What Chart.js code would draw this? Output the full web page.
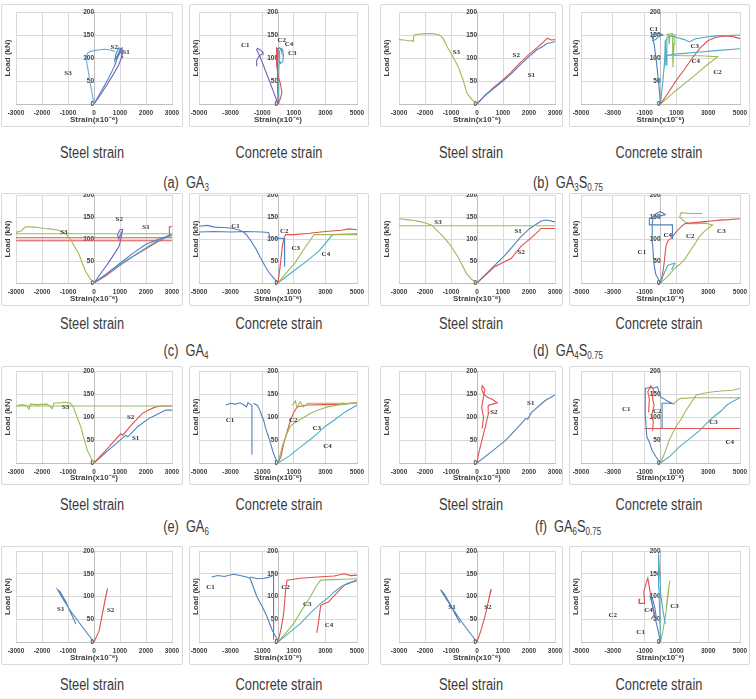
<!DOCTYPE html>
<html><head><meta charset="utf-8">
<script src="https://cdn.jsdelivr.net/npm/chart.js@4"></script>
<style>
body{margin:0;background:#fff;width:756px;height:699px;position:relative;overflow:hidden;font-family:"Liberation Sans","Arial",sans-serif;}
.box{position:absolute;border:1px solid #d9d9d9;border-radius:2px;box-sizing:border-box;background:#fff;}
.box canvas{display:block}
.lab{position:absolute;transform:translate(-50%,-50%) scaleX(0.8);white-space:nowrap;font-size:16px;color:#3a3a3a;}
.lab sub{font-size:10px;vertical-align:-3px;line-height:0;}
</style></head><body>
<script>
// ---------- tick labels ----------
const steelTicks = [-3000,-2000,-1000,0,1000,2000,3000];
const concreteTicks = [-5000,-3000,-1000,1000,3000,5000];
const loadTicks = [0,50,100,150,200];

// ---------- (a) GA3 ----------
const aSteelS3 = [[0,0],[-80,25],[-160,50],[-240,78],[-300,98],[-290,105],[-250,110],[-150,114],[0,116],[200,118],[400,119],[600,118],[700,116],[800,115]];
const aSteelS2 = [[0,0],[150,15],[350,35],[550,55],[750,78],[850,90],[800,85],[900,100],[1000,112],[1050,120],[950,122],[850,110],[800,95],[900,105],[1000,118],[1100,115]];
const aSteelS1 = [[0,0],[250,20],[500,42],[750,65],[950,85],[1050,100],[1100,112],[1080,122],[1000,118],[1050,110],[1120,100]];
const aSteelLabels = [['S2',780,124],['S1',1230,112],['S3',-1000,66]];
const aConcC1 = [[0,0],[-300,28],[-600,55],[-900,82],[-1150,104],[-1350,118],[-1300,121],[-1150,118],[-1000,114],[-950,110],[-1200,104],[-1350,95],[-1350,82]];
const aConcC2 = [[0,0],[150,12],[250,25],[150,45],[0,60],[-80,85],[-100,110],[-80,122],[-20,120],[0,100]];
const aConcC3 = [[0,0],[40,30],[60,70],[80,100],[100,115],[200,121],[300,118],[350,105],[300,92],[150,88],[100,95]];
const aConcC4 = [[0,0],[-30,40],[-40,80],[-20,110],[0,121],[100,122],[200,120],[250,112]];
const aConcLabels = [['C1',-2070,128],['C2',235,139],['C4',700,129],['C3',900,111]];

// ---------- (b) GA3S0.75 ----------
const bSteelS3 = [[-3000,140],[-2800,139],[-2600,137],[-2500,138],[-2450,136],[-2420,150],[-2200,152],[-2000,153],[-1700,153],[-1500,151],[-1400,148],[-1300,142],[-1150,125],[-1000,110],[-850,95],[-700,78],[-550,55],[-400,25],[-200,10],[0,0]];
const bSteelS1 = [[0,0],[300,18],[600,32],[1000,50],[1300,65],[1600,82],[2000,103],[2300,118],[2500,124],[2700,132],[2850,133],[3000,136]];
const bSteelS2 = [[0,0],[300,18],[600,34],[1000,53],[1300,68],[1600,86],[2000,108],[2300,122],[2500,132],[2700,143],[2850,139],[3000,140]];
const bSteelLabels = [['S3',-795,112],['S2',1510,106],['S1',2090,63]];
const bConcC1 = [[0,0],[-100,40],[-250,90],[-400,130],[-550,150],[-300,153],[0,153],[150,150],[-100,148],[-300,140],[-500,138],[-400,150]];
const bConcC4 = [[0,0],[150,50],[250,90],[300,105],[800,108],[1500,110],[2500,113],[3500,116],[5000,120],null,[250,80],[300,140],[350,85],[400,145],[700,148],[1000,145],[1500,140],[1800,135],[2200,142],[2800,145],[3500,148],[4200,149],[5000,150]];
const bConcC3 = [[0,0],[500,25],[1000,52],[1500,75],[2000,100],[2500,122],[3000,138],[3500,145],[4000,148],[4500,147],[5000,142]];
const bConcC2 = [[0,0],[1000,30],[2000,58],[3000,87],[3600,103],[2500,105],[1500,105],[400,106],[300,108],null,[350,150],[500,152],[550,130],[600,152],[750,153],[780,80],[850,130],[900,150],[950,152]];
const bConcLabels = [['C1',-420,162],['C3',2160,126],['C4',2220,92],['C2',3580,70]];

// ---------- (c) GA4 ----------
const cSteelS3 = [[-3000,115],[-2800,118],[-2650,127],[-2500,128],[-2300,127],[-2130,126],[-1900,124],[-1740,123],[-1420,121],[-1160,115],[-1000,106],[-900,99],[-750,83],[-580,66],[-450,45],[-320,26],[-150,10],[0,0],null,[-3000,112],[3000,112]];
const cSteelRed = [[-3000,103],[3000,103],null,[-3000,96],[3000,96],null,[0,0],[500,18],[1000,40],[1500,60],[2000,78],[2400,92],[2800,105],[2900,110],[2900,128],[3000,128]];
const cSteelS2 = [[0,0],[300,25],[580,48],[800,68],[970,84],[1050,105],[1100,122],[1000,121],[900,110],[950,100],[1050,115],[1100,118]];
const cSteelS1 = [[0,0],[500,22],[1000,45],[1500,68],[2000,88],[2500,100],[2900,108],[3000,112]];
const cSteelS1b = [[0,0],[600,25],[1200,50],[1800,72],[2400,95],[3000,108]];
const cSteelLabels = [['S3',-1160,116],['S2',970,146],['S1',2000,127]];
const cConcC1 = [[-5000,129],[-4500,131],[-4000,127],[-3500,126],[-3000,125],[-2500,121],[-2200,116],[-2000,110],[-1700,95],[-1400,78],[-1000,50],[-600,25],[-300,12],[0,0],null,[-5000,116],[-4000,117],[-3000,116],[-2000,117],[-1000,116],[-600,115],[-500,103],[0,102],[400,101],[420,37]];
const cConcC2 = [[0,0],[170,48],[275,84],[380,102],[490,110],[1000,110],[2000,113],[3000,117],[4000,120],[4500,123],[5000,121]];
const cConcC3 = [[0,0],[500,22],[1120,48],[1700,80],[2290,110],[3000,110],[5000,110]];
const cConcC4 = [[0,0],[900,25],[1760,48],[2600,73],[3000,90],[3450,110],[5000,112]];
const cConcLabels = [['C1',-2690,130],['C2',400,118],['C3',1120,78],['C4',3030,66]];

// ---------- (d) GA4S0.75 ----------
const dSteelS3 = [[-3000,146],[-2530,143],[-2140,139],[-1760,132],[-1370,110],[-1050,88],[-730,59],[-410,22],[-200,8],[0,0],null,[-3000,130],[3000,130]];
const dSteelS1 = [[0,0],[680,40],[1060,62],[1400,85],[1700,106],[2030,124],[2470,141],[2670,143],[3000,139]];
const dSteelS2 = [[0,0],[680,37],[1320,56],[1700,84],[2150,106],[2470,124],[3000,124]];
const dSteelLabels = [['S3',-1500,139],['S1',1580,117],['S2',1700,69]];
const dConcC1 = [[0,0],[-150,10],[-300,20],[-420,45],[-500,90],[-520,135],[-450,150],[-300,157],[-150,160],[0,162],[200,158],[300,155],[-100,152],[-500,150],[-700,147],[-700,132],[750,132],[750,100]];
const dConcC4 = [[0,0],[200,20],[450,40],[600,42],[900,45],[700,30]];
const dConcC3 = [[0,0],[150,25],[240,48],[300,70],[350,84],[450,95],[670,102],[900,112],[1110,121],[1300,128],[1540,135],[2000,137],[2630,139],[3200,141],[3720,143],[4300,144],[5000,146]];
const dConcC2 = [[0,0],[450,15],[890,33],[1200,42],[1540,55],[1900,75],[2200,91],[2400,103],[2630,113],[2900,122],[3280,132],[2800,136],[2200,135],[1800,135],[1500,140],[1200,150],[1300,160],[1800,158],[2200,158],[2630,158]];
const dConcLabels = [['C4',460,108],['C2',1870,106],['C3',3830,117],['C1',-1170,70]];

// ---------- (e) GA6 ----------
const eSteelS3 = [[-3000,124],[-2800,127],[-2600,125],[-2500,117],[-2450,128],[-2200,127],[-1800,128],[-1600,118],[-1550,130],[-1300,131],[-1100,132],[-900,130],[-800,122],[-650,100],[-510,79],[-380,52],[-260,28],[-120,12],[0,0],null,[-3000,124],[3000,124]];
const eSteelS2 = [[0,0],[500,30],[1030,64],[1100,60],[1400,80],[1860,108],[2100,115],[2370,122],[2600,124],[3000,124]];
const eSteelS1 = [[0,0],[600,30],[1220,60],[1300,57],[1700,80],[2120,97],[2400,105],[2760,115],[3000,115]];
const eSteelLabels = [['S3',-1090,121],['S2',1410,100],['S1',1600,55]];
const eConcC1 = [[-3300,126],[-3000,130],[-2700,128],[-2400,131],[-2200,127],[-2000,122],[-1900,131],[-1750,128],[-1650,125],[-1650,18],null,[-1550,130],[-1300,125],[-1150,115],[-1000,100],[-910,93],[-750,72],[-600,57],[-450,40],[-280,20],[-100,6],[0,2]];
const eConcC2 = [[0,0],[200,15],[360,42],[550,65],[790,93],[1000,110],[1210,122],[1500,124],[1850,126],[3000,127],[4000,128],[5000,131]];
const eConcC3 = [[0,0],[300,40],[570,64],[780,80],[1000,86],[1500,96],[2060,108],[2600,116],[3130,122],[4000,127],[5000,131],null,[900,125],[1100,135],[1200,120],[1400,133],[1600,122],[1900,130],[5000,130]];
const eConcC4 = [[0,0],[700,15],[1430,35],[2000,50],[2490,64],[3000,80],[3550,93],[4200,110],[5000,126]];
const eConcLabels = [['C1',-3040,92],['C2',960,93],['C3',2450,76],['C4',3130,36]];

// ---------- (f) GA6S0.75 ----------
const fSteelS2 = [[0,0],[60,20],[190,49],[320,79],[450,110],[430,125],[600,128],[780,131],[600,138],[400,143],[250,150],[180,160],[200,168],[300,160],[250,145],[180,120],[250,100],[200,75]];
const fSteelS1 = [[0,0],[500,22],[1100,49],[1500,73],[1880,97],[1950,95],[2100,110],[2400,125],[2650,137],[2850,143],[3000,148]];
const fSteelLabels = [['S2',650,111],['S1',2070,131]];
const fConcC1 = [[0,0],[-300,14],[-540,28],[-700,45],[-860,57],[-950,100],[-970,140],[-950,162],[-700,164],[-400,163],[-200,166],[-100,155],[0,144],[320,137],[750,129],[500,130],[100,130],[100,75]];
const fConcC2 = [[-1000,75],[5000,75],null,[-750,110],[-700,140],[-800,155],[-600,168],[-450,160],[-500,140],[-400,125],[-550,105],[-450,90],[-500,70]];
const fConcC3 = [[0,0],[300,25],[540,49],[960,79],[1300,95],[1610,115],[1900,130],[2250,148],[2800,152],[3330,155],[4000,157],[4500,158],[5000,162],null,[800,128],[1200,140],[2000,142],[5000,142]];
const fConcC4 = [[0,0],[600,15],[1180,35],[1800,52],[2470,71],[3000,90],[3330,100],[3800,113],[4180,126],[4600,135],[5000,142]];
const fConcLabels = [['C1',-2150,116],['C2',-210,113],['C3',3330,88],['C4',4360,45]];

// ---------- (g) ----------
const gSteelS1 = [[0,0],[-300,22],[-600,45],[-900,68],[-1200,95],[-1400,115],[-1300,110],[-1100,90],[-900,65],[-700,40]];
const gSteelS2 = [[0,0],[200,25],[300,55],[420,90],[520,118],[450,100],[350,70],[250,40]];
const gSteelLabels = [['S1',-1280,73],['S2',640,71]];
const gConcC1 = [[-4200,143],[-3800,146],[-3400,144],[-2830,149],[-2400,146],[-2000,143],[-1770,140],[-1340,100],[-1000,78],[-700,56],[-380,27],[-150,12],[0,5],null,[-1770,143],[-1300,139],[-910,140],[-600,142],[-380,145],[-280,148],[-280,5]];
const gConcC2 = [[0,0],[200,30],[360,63],[470,110],[570,136],[1000,138],[1430,140],[2500,143],[3550,145],[4190,150],[4600,146],[5000,147],null,[2450,20],[2550,40],[2700,80],[2900,84],[3200,88],[3500,100],[4200,125],[4600,130],[5000,135]];
const gConcC3 = [[0,0],[500,20],[1000,41],[1500,70],[2060,100],[2400,122],[2700,136],[3500,137],[4200,138],[5000,139]];
const gConcC4 = [[0,0],[700,20],[1430,41],[2000,62],[2700,85],[3100,95],[3550,110],[4000,122],[4400,129],[5000,136]];
const gConcLabels = [['C1',-4270,120],['C2',470,121],['C3',1850,84],['C4',3230,36]];

// ---------- (h) ----------
const hSteelS1 = [[0,0],[-300,22],[-600,45],[-900,70],[-1150,92],[-1350,110],[-1400,115],[-1250,105],[-1050,85],[-850,62],[-650,42]];
const hSteelS2 = [[0,0],[150,25],[300,55],[420,85],[520,112],[550,116],[480,100],[380,75],[280,50]];
const hSteelLabels = [['S1',-960,77],['S2',420,77]];
const hConcC2 = [[-1300,95],[-1350,85],[-1000,85],[-1050,110],[-900,130],[-800,140],[-700,120],[-600,100],[-500,80],[-400,60],[-600,50]];
const hConcC1 = [[0,0],[-150,25],[-350,55],[-500,80],[-650,100],[-500,95],[-350,75],[-250,50]];
const hConcC4 = [[0,0],[-50,60],[-100,120],[-150,170],[-100,195],[-50,150],[0,110],[150,70],[300,40]];
const hConcC3 = [[0,0],[150,25],[300,55],[450,95],[550,125],[600,135],[500,115],[350,75]];
const hConcLabels = [['C2',-3000,59],['C4',-750,70],['C1',-1250,22],['C3',875,79]];

// ---------- layout & styles ----------
const BLUE='#4f81bd', RED='#e0504d', GREEN='#9bbb59', AQUA='#4bacc6', PURPLE='#7463b3', LBLUE='#6fa8dc', VIOLET='#6a62c8';
const rows = [{top:4,h:123,pt:8,pb:100},{top:193,h:113,pt:2,pb:90},{top:366,h:119,pt:5,pb:97},{top:546,h:119,pt:5,pb:96}];
const cols = [{left:1,w:182,pl:15,pr:11},{left:189,w:180,pl:10,pr:12},{left:380,w:183,pl:19,pr:8},{left:569,w:181,pl:12,pr:10}];

const charts = [
 {r:0,c:0,k:'s',s:[[aSteelS3,LBLUE],[aSteelS2,BLUE],[aSteelS1,PURPLE]],l:aSteelLabels},
 {r:0,c:1,k:'c',s:[[aConcC1,PURPLE],[aConcC2,RED],[aConcC3,AQUA],[aConcC4,BLUE]],l:aConcLabels},
 {r:0,c:2,k:'s',s:[[bSteelS3,GREEN],[bSteelS1,BLUE],[bSteelS2,RED]],l:bSteelLabels},
 {r:0,c:3,k:'c',s:[[bConcC1,BLUE],[bConcC4,AQUA],[bConcC3,RED],[bConcC2,GREEN]],l:bConcLabels},
 {r:1,c:0,k:'s',s:[[cSteelS3,GREEN],[cSteelS1,BLUE],[cSteelS1b,AQUA],[cSteelRed,RED],[cSteelS2,VIOLET]],l:cSteelLabels},
 {r:1,c:1,k:'c',s:[[cConcC1,BLUE],[cConcC2,RED],[cConcC3,GREEN],[cConcC4,AQUA]],l:cConcLabels},
 {r:1,c:2,k:'s',s:[[dSteelS3,GREEN],[dSteelS1,BLUE],[dSteelS2,RED]],l:dSteelLabels},
 {r:1,c:3,k:'c',s:[[dConcC1,BLUE],[dConcC4,AQUA],[dConcC3,RED],[dConcC2,GREEN]],l:dConcLabels},
 {r:2,c:0,k:'s',s:[[eSteelS3,GREEN],[eSteelS2,RED],[eSteelS1,BLUE]],l:eSteelLabels},
 {r:2,c:1,k:'c',s:[[eConcC1,BLUE],[eConcC4,AQUA],[eConcC3,GREEN],[eConcC2,RED]],l:eConcLabels},
 {r:2,c:2,k:'s',s:[[fSteelS2,RED],[fSteelS1,BLUE]],l:fSteelLabels},
 {r:2,c:3,k:'c',s:[[fConcC4,AQUA],[fConcC3,GREEN],[fConcC1,BLUE],[fConcC2,RED]],l:fConcLabels},
 {r:3,c:0,k:'s',s:[[gSteelS1,BLUE],[gSteelS2,RED]],l:gSteelLabels},
 {r:3,c:1,k:'c',s:[[gConcC1,BLUE],[gConcC4,AQUA],[gConcC3,GREEN],[gConcC2,RED]],l:gConcLabels},
 {r:3,c:2,k:'s',s:[[hSteelS1,BLUE],[hSteelS2,RED]],l:hSteelLabels},
 {r:3,c:3,k:'c',s:[[hConcC1,BLUE],[hConcC4,AQUA],[hConcC3,GREEN],[hConcC2,RED]],l:hConcLabels}
];

const texts = [
 {t:'Steel strain',x:92,y:153},{t:'Concrete strain',x:279,y:153},{t:'Steel strain',x:471,y:153},{t:'Concrete strain',x:659,y:153},
 {t:'(a)&nbsp; GA<sub>3</sub>',x:186,y:183},{t:'(b)&nbsp; GA<sub>3</sub>S<sub>0.75</sub>',x:568,y:183},
 {t:'Steel strain',x:92,y:324},{t:'Concrete strain',x:279,y:324},{t:'Steel strain',x:471,y:324},{t:'Concrete strain',x:659,y:324},
 {t:'(c)&nbsp; GA<sub>4</sub>',x:186,y:351},{t:'(d)&nbsp; GA<sub>4</sub>S<sub>0.75</sub>',x:568,y:351},
 {t:'Steel strain',x:92,y:505},{t:'Concrete strain',x:279,y:505},{t:'Steel strain',x:471,y:505},{t:'Concrete strain',x:659,y:505},
 {t:'(e)&nbsp; GA<sub>6</sub>',x:186,y:527},{t:'(f)&nbsp; GA<sub>6</sub>S<sub>0.75</sub>',x:568,y:527},
 {t:'Steel strain',x:92,y:685},{t:'Concrete strain',x:279,y:685},{t:'Steel strain',x:471,y:685},{t:'Concrete strain',x:659,y:685}
];

const FONT = '"Liberation Sans","Arial",sans-serif';
const seriesLabelPlugin = {
  id:'seriesLabels',
  afterDatasetsDraw(chart, args, opts){
    const {ctx, scales:{x, y}} = chart;
    ctx.save();
    ctx.font = 'bold 7px "Liberation Serif", serif';
    ctx.fillStyle = '#333';
    ctx.textAlign = 'center'; ctx.textBaseline = 'middle';
    (opts.items || []).forEach(it => ctx.fillText(it[0], x.getPixelForValue(it[1]), y.getPixelForValue(it[2])));
    ctx.restore();
  }
};

function pts(a){ return a.map(p => p ? {x:p[0], y:p[1]} : {x:null, y:null}); }

texts.forEach(o => {
  const d = document.createElement('div');
  d.className = 'lab'; d.innerHTML = o.t;
  d.style.left = o.x + 'px'; d.style.top = o.y + 'px';
  document.body.appendChild(d);
});

charts.forEach(cd => {
  const R = rows[cd.r], C = cols[cd.c];
  const box = document.createElement('div');
  box.className = 'box';
  box.style.left = C.left + 'px'; box.style.top = R.top + 'px';
  box.style.width = C.w + 'px'; box.style.height = R.h + 'px';
  const cv = document.createElement('canvas');
  const W = C.w - 2, H = R.h - 2;
  cv.width = W; cv.height = H; cv.style.width = W + 'px'; cv.style.height = H + 'px';
  box.appendChild(cv);
  document.body.appendChild(box);
  const steel = cd.k === 's';
  const xt = steel ? steelTicks : concreteTicks;
  const xh = R.h - 1 - R.pb;
  new Chart(cv, {
    type:'scatter',
    data:{ datasets: cd.s.map(s => ({
      data: pts(s[0]), showLine:true, borderColor:s[1], backgroundColor:s[1],
      borderWidth:1.1, pointRadius:0, pointHoverRadius:0, tension:0, spanGaps:false,
      xAxisID:'x', yAxisID:'y'
    }))},
    options:{
      responsive:false, animation:false, devicePixelRatio:1,
      layout:{ padding:{ left:0, right:C.pr - 1, top:R.pt - 1, bottom:0 } },
      plugins:{ legend:{display:false}, tooltip:{enabled:false}, seriesLabels:{ items: cd.l } },
      scales:{
        x:{ type:'linear', position:'bottom', min:xt[0], max:xt[xt.length-1],
            afterBuildTicks: s => { s.ticks = xt.map(v => ({value:v})); },
            afterFit: s => { s.height = xh; s.paddingLeft = 0; s.paddingRight = 0; },
            grid:{ color:'#d9d9d9', lineWidth:1, drawTicks:false },
            border:{ color:'#bfbfbf' },
            ticks:{ autoSkip:false, maxRotation:0, padding:5, color:'#404040', font:{family:FONT, size:6.5, weight:'bold'}, callback: v => String(v) },
            title:{ display:true, text:'Strain(x10\u207B\u2076)', color:'#404040', padding:{top:0,bottom:1}, font:{family:FONT, size:8, weight:'bold'} } },
        y:{ type:'linear', position:{x:0}, min:0, max:200,
            afterBuildTicks: s => { s.ticks = loadTicks.map(v => ({value:v})); },
            afterFit: s => { s.paddingTop = 0; s.paddingBottom = 0; },
            grid:{ color:'#d9d9d9', lineWidth:1, drawTicks:false },
            border:{ color:'#bfbfbf' },
            ticks:{ padding:3, color:'#404040', font:{family:FONT, size:6.5, weight:'bold'}, callback: v => String(v) } },
        yt:{ type:'linear', position:'left', min:0, max:200,
            afterFit: s => { s.width = C.pl - 1; s.paddingTop = 0; s.paddingBottom = 0; },
            grid:{ display:false, drawTicks:false }, border:{ display:false },
            ticks:{ display:false },
            title:{ display:true, text:'Load (kN)', color:'#404040', padding:{top:1,bottom:0}, font:{family:FONT, size:8, weight:'bold'} } }
      }
    },
    plugins:[seriesLabelPlugin]
  });
});
</script>
</body></html>
